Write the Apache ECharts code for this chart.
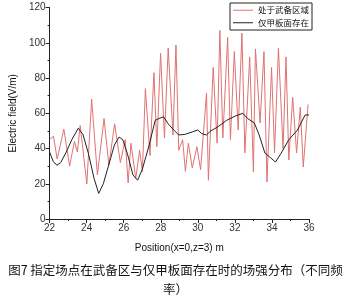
<!DOCTYPE html>
<html><head><meta charset="utf-8">
<script src="https://cdn.jsdelivr.net/npm/echarts@6/dist/echarts.min.js"></script>
<style>html,body{margin:0;padding:0;background:#fff}#c{width:351px;height:299px}</style>
</head><body><div id="c"></div>
<script>
const seriesNames = ['处于武备区域', '仅甲板面存在'];
const redX = [22.0,22.21,22.41,22.77,23.08,23.34,23.5,23.65,24.01,24.27,24.58,24.94,25.2,25.51,25.82,26.08,26.24,26.39,26.65,26.86,27.01,27.17,27.42,27.63,27.79,27.99,28.2,28.4,28.66,28.82,28.97,29.18,29.33,29.49,29.7,29.95,30.15,30.47,30.57,30.83,31.04,31.19,31.35,31.61,31.76,31.97,32.18,32.38,32.54,32.8,33.0,33.11,33.36,33.57,33.73,33.98,34.14,34.35,34.6,34.76,34.91,35.12,35.33,35.53,35.69,35.95];
const redY = [45,47,34,51,30,44,38,53,20,68,25,57,30.5,54,32,45,20.5,43,23,39,27,74,36,83,41,94,46,97,47.7,98.7,39,45,27,43,29,41,28,71.5,22,86,43,107,46,103,45,95,50.5,105.5,37.5,92,26.7,96.5,54.5,95,21,86,37.5,97,40,92,33.5,69,37.5,63.5,29.5,65];
const blackX = [22.0,22.2,22.4,22.6,22.9,23.2,23.55,23.8,24.1,24.4,24.65,24.9,25.2,25.5,25.75,25.95,26.2,26.5,26.75,27.0,27.35,27.7,27.9,28.15,28.4,28.7,28.97,29.3,29.7,30.0,30.2,30.47,30.7,31.04,31.56,32.02,32.43,32.69,33.05,33.31,33.62,33.88,34.19,34.5,34.91,35.38,35.79,36.0];
const blackY = [38,32.5,30.5,32,38,45,51.5,48,37,23,14.5,20,31,42,46.5,45,37,25,22,28,41,56,57,58,54,50.5,47.7,48,49.4,50.5,48.5,47.7,50,52,56,58.4,60,57,54.5,47.7,37.4,35.2,32.3,37.4,45,50.5,59,59];
const xTicks = {min: 22, max: 36, interval: 2};
const yTicks = {min: 0, max: 120, interval: 20};
const xName = 'Position(x=0,z=3) m';
const yName = 'Electric field(V/m)';
const caption = '图7 指定场点在武备区与仅甲板面存在时的场强分布（不同频\n率）';

const chart = echarts.init(document.getElementById('c'), null, {renderer: 'canvas'});
const axisCommon = {
  axisLine: {lineStyle: {color: '#222', width: 1}},
  axisTick: {show: true, inside: false, length: 4, lineStyle: {color: '#222'}},
  minorTick: {show: true, splitNumber: 2, length: 2, lineStyle: {color: '#222'}},
  splitLine: {show: false},
  axisLabel: {color: '#333', fontSize: 10, fontFamily: 'Liberation Sans, Arial', margin: 4},
  nameTextStyle: {color: '#111', fontSize: 10, fontFamily: 'Liberation Sans, Arial'}
};
chart.setOption({
  animation: false,
  backgroundColor: '#fff',
  grid: {left: 38, right: 42, top: 7.5, bottom: 80},
  title: {text: caption, left: 'center', top: 261, padding: 0,
    textStyle: {fontSize: 12.5, fontWeight: 'normal', color: '#111', fontFamily: 'Noto Sans CJK SC', lineHeight: 19, align: 'center'}},
  legend: {
    orient: 'vertical', left: 230, top: 3,
    data: seriesNames,
    icon: 'rect',
    borderColor: '#222', borderWidth: 1, borderRadius: 0,
    padding: [3, 3, 3, 3], itemGap: 4, itemWidth: 20, itemHeight: 1,
    textStyle: {fontSize: 8.5, color: '#111', fontFamily: 'Noto Sans CJK SC'}
  },
  xAxis: Object.assign({}, axisCommon, {
    type: 'value', min: xTicks.min, max: xTicks.max, interval: xTicks.interval,
    name: xName, nameLocation: 'middle', nameGap: 24
  }),
  yAxis: Object.assign({}, axisCommon, {
    type: 'value', min: yTicks.min, max: yTicks.max, interval: yTicks.interval,
    name: yName, nameLocation: 'middle', nameGap: 22
  }),
  series: [
    {name: seriesNames[0], type: 'line', symbol: 'none',
     lineStyle: {color: '#e07272', width: 1}, itemStyle: {color: '#e07272'},
     data: redX.map((x, i) => [x, redY[i]])},
    {name: seriesNames[1], type: 'line', symbol: 'none',
     lineStyle: {color: '#222', width: 1}, itemStyle: {color: '#222'},
     data: blackX.map((x, i) => [x, blackY[i]])}
  ]
});
</script></body></html>
